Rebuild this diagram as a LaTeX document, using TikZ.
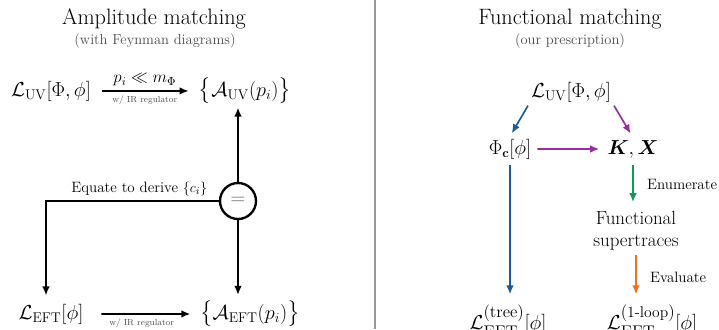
\documentclass[tikz,border=0pt]{standalone}
\usepackage{amsmath}
\usepackage{amssymb}
\usepackage{xcolor}
\usetikzlibrary{positioning, arrows.meta, calc}
\definecolor{treeblue}{RGB}{22,92,152}
\definecolor{kxpurple}{RGB}{150,45,160}
\definecolor{enumgreen}{RGB}{20,150,88}
\definecolor{evalorange}{RGB}{245,110,30}
\tikzset{
  ttl/.style={font=\fontsize{19}{22}\selectfont, anchor=base, inner sep=0pt},
  subttl/.style={font=\fontsize{12.4}{14}\selectfont, text=black!70, anchor=base, inner sep=0pt},
  expr/.style={font=\fontsize{18.5}{22}\selectfont, anchor=base, inner sep=2pt},
  midexpr/.style={expr, font=\fontsize{16.2}{19}\selectfont},
  lowexpr/.style={expr, font=\fontsize{19}{22}\selectfont},
  words/.style={font=\fontsize{16.2}{18.5}\selectfont, align=center, inner sep=2pt},
  lbl/.style={font=\fontsize{12.8}{15}\selectfont},
  smalllbl/.style={font=\fontsize{7.5}{9}\selectfont, text=black!70},
  arr/.style={-{Latex[length=2.7mm, width=2.3mm]}, line width=1.4pt},
  barr/.style={arr, draw=treeblue, -{Latex[length=2.7mm, width=2.3mm, color=treeblue]}},
  parr/.style={arr, draw=kxpurple, -{Latex[length=2.7mm, width=2.3mm, color=kxpurple]}},
  garr/.style={arr, draw=enumgreen, -{Latex[length=2.7mm, width=2.3mm, color=enumgreen]}},
  oarr/.style={arr, draw=evalorange, -{Latex[length=2.7mm, width=2.3mm, color=evalorange]}},
  eqcirc/.style={draw, circle, line width=2pt, minimum size=1.08cm, inner sep=0pt, font=\fontsize{17.3}{20}\selectfont, text=black!60},
  divider/.style={draw=black!40, line width=1.5pt}
}
\begin{document}
\begin{tikzpicture}[x=0.03cm, y=-0.03cm]
\useasboundingbox (0,0) rectangle (719,329);
% amplitude matching
\node[ttl] (ttlA) at (154,24) {Amplitude matching};
\node[subttl] (subA) at (155,44) {(with Feynman diagrams)};
\node[expr] (uvA) at (51,96) {$\mathcal{L}_{\mathrm{UV}}[\Phi,\phi]$};
\node[expr] (ampUV) at (245,96) {$\big\{\mathcal{A}_{\mathrm{UV}}(p_i)\big\}$};
\node[eqcirc] (eq) at (238,201) {$=$};
\coordinate (cnr) at (46,201);
\node[expr] (eftA) at (51,319) {$\mathcal{L}_{\mathrm{EFT}}[\phi]$};
\node[expr] (ampEFT) at (250,319) {$\big\{\mathcal{A}_{\mathrm{EFT}}(p_i)\big\}$};
\draw[arr, shorten <=7.5pt, shorten >=6.5pt] (uvA) -- node[above, lbl, font=\fontsize{13.8}{16}\selectfont] {$p_i \ll m_\Phi$} node[below, smalllbl] {w/ IR regulator} (ampUV);
\draw[arr, shorten >=1pt] (eq.north) -- (eq.north |- ampUV.south);
\draw[arr, shorten >=5pt] (eq.west) -- node[above, lbl, pos=0.46] {Equate to derive $\{c_i\}$} (cnr) -- (cnr |- eftA.north);
\draw[arr, shorten >=3pt] (eq.south) -- (eq.south |- ampEFT.north);
\draw[arr, shorten <=13.2pt, shorten >=6.1pt] (eftA) -- node[below, smalllbl] {w/ IR regulator} (ampEFT);
% divider
\draw[divider] (375,0) -- (375,329);
% functional matching
\node[ttl] (ttlB) at (570,24) {Functional matching};
\node[subttl] (subB) at (570,44) {(our prescription)};
\node[expr] (uvB) at (571,97) {$\mathcal{L}_{\mathrm{UV}}[\Phi,\phi]$};
\node[midexpr] (phic) at (510,154) {$\Phi_{\mathbf{c}}[\phi]$};
\node[midexpr] (kx) at (633,154) {$\boldsymbol{K},\boldsymbol{X}$};
\node[words] (str) at (636,231) {Functional\\supertraces};
\node[lowexpr] (tree) at (508,329) {$\mathcal{L}_{\mathrm{EFT}}^{(\mathrm{tree})}[\phi]$};
\node[lowexpr] (loop) at (652,329) {$\mathcal{L}_{\mathrm{EFT}}^{(\text{1-loop})}[\phi]$};
\draw[barr, shorten <=1pt, shorten >=3pt] (uvB.south west) -- (phic.north);
\draw[parr, shorten <=1pt, shorten >=4pt] (uvB.south east) -- (kx.north);
\draw[parr, shorten <=3pt, shorten >=5pt] (phic) -- (kx);
\draw[barr, shorten <=3pt, shorten >=7pt] (phic.south) -- (phic.south |- tree.north);
\draw[garr, shorten <=4pt, shorten >=6pt] (kx.south) -- node[right=8pt, lbl] {Enumerate} (kx.south |- str.north);
\draw[oarr, shorten <=2pt, shorten >=7pt] (str.south) -- node[right=8pt, lbl] {Evaluate} (str.south |- loop.north);
\end{tikzpicture}
\end{document}
